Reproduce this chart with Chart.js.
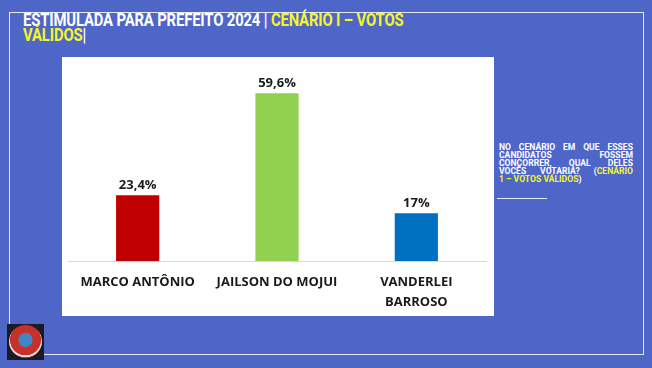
<!DOCTYPE html>
<html>
<head>
<meta charset="utf-8">
<script src="https://cdn.jsdelivr.net/npm/chart.js@4"></script>
<style>
  html, body { margin: 0; padding: 0; }
  body { width: 652px; height: 368px; background: #4e66c8; position: relative; overflow: hidden; font-family: Roboto, "Open Sans", sans-serif; }
  #frame { position: absolute; left: 9px; top: 12px; width: 633px; height: 341px; border: 1px solid #e6eaf7; }
  #title { position: absolute; left: 23px; top: 13px; font-weight: 700; font-size: 17.5px; line-height: 15px; color: #ffffff; letter-spacing: -0.2px; transform: scaleX(0.85); transform-origin: 0 0; white-space: nowrap; }
  .yel { color: #f5f52a; }
  #panel { position: absolute; left: 62px; top: 57px; width: 432px; height: 259px; background: #ffffff; }
  #side { position: absolute; left: 499px; top: 143px; width: 134px; font-weight: 700; font-size: 8.6px; line-height: 8px; color: #ffffff; }
  #side div { text-align: justify; text-align-last: justify; white-space: nowrap; }
  #side div.last { text-align-last: left; }
  #rule { position: absolute; left: 497px; top: 198px; width: 50px; height: 1px; background: #e6eaf7; }
  #logo { position: absolute; left: 7px; top: 324px; width: 37px; height: 36px; background: #1b1b22; }
  #logo .c { position: absolute; left: 2px; top: 1px; width: 33px; height: 33px; border-radius: 50%;
    background: radial-gradient(circle at 50% 45%, #3f86c4 0 28%, #c8302c 30% 62%, #e8d8d8 64% 70%, #b83a36 72%); }
</style>
</head>
<body>
<div id="frame"></div>
<div id="title">ESTIMULADA PARA PREFEITO 2024 | <span class="yel">CENÁRIO I – VOTOS</span><br><span class="yel">VÁLIDOS</span>|</div>
<div id="panel"><canvas id="c" width="432" height="259"></canvas></div>
<div id="side">
  <div>NO CENÁRIO EM QUE ESSES</div>
  <div>CANDIDATOS FOSSEM</div>
  <div>CONÇORRER, QUAL DELES</div>
  <div>VOCÊS VOTARIA? (<span class="yel">CENÁRIO</span></div>
  <div class="last"><span class="yel">1 – VOTOS VÁLIDOS</span>)</div>
</div>
<div id="rule"></div>
<div id="logo"><div class="c"></div></div>
<script>
const categories = [["MARCO ANTÔNIO"], ["JAILSON DO MOJUI"], ["VANDERLEI", "BARROSO"]];
const values = [23.4, 59.6, 17];
const valueLabels = ["23,4%", "59,6%", "17%"];
const barColors = ["#c00000", "#92d050", "#0070c0"];

const dataLabels = {
  id: "dataLabels",
  afterDatasetsDraw(chart) {
    const ctx = chart.ctx;
    const meta = chart.getDatasetMeta(0);
    ctx.save();
    ctx.font = "700 13px 'Open Sans', Roboto, sans-serif";
    ctx.fillStyle = "#1a1a1a";
    ctx.textAlign = "center";
    ctx.textBaseline = "bottom";
    meta.data.forEach((bar, i) => {
      ctx.fillText(valueLabels[i], bar.x, bar.y - 3);
    });
    ctx.restore();
  }
};

new Chart(document.getElementById("c"), {
  type: "bar",
  data: {
    labels: categories,
    datasets: [{ data: values, backgroundColor: barColors, borderWidth: 0, categoryPercentage: 1, barPercentage: 0.31 }]
  },
  options: {
    responsive: false,
    animation: false,
    layout: { padding: { left: 6, right: 8, top: 7, bottom: 0 } },
    plugins: { legend: { display: false }, tooltip: { enabled: false } },
    scales: {
      x: {
        afterFit(scale) { scale.height = 55; },
        grid: { display: false, drawTicks: false },
        border: { display: true, color: "#d9d9d9", width: 1 },
        ticks: { color: "#1a1a1a", font: { family: "'Open Sans', Roboto, sans-serif", weight: "700", size: 13, lineHeight: 1.5 }, padding: 12, maxRotation: 0, autoSkip: false }
      },
      y: { display: false, min: 0, max: 70 }
    }
  },
  plugins: [dataLabels]
});
</script>
</body>
</html>
